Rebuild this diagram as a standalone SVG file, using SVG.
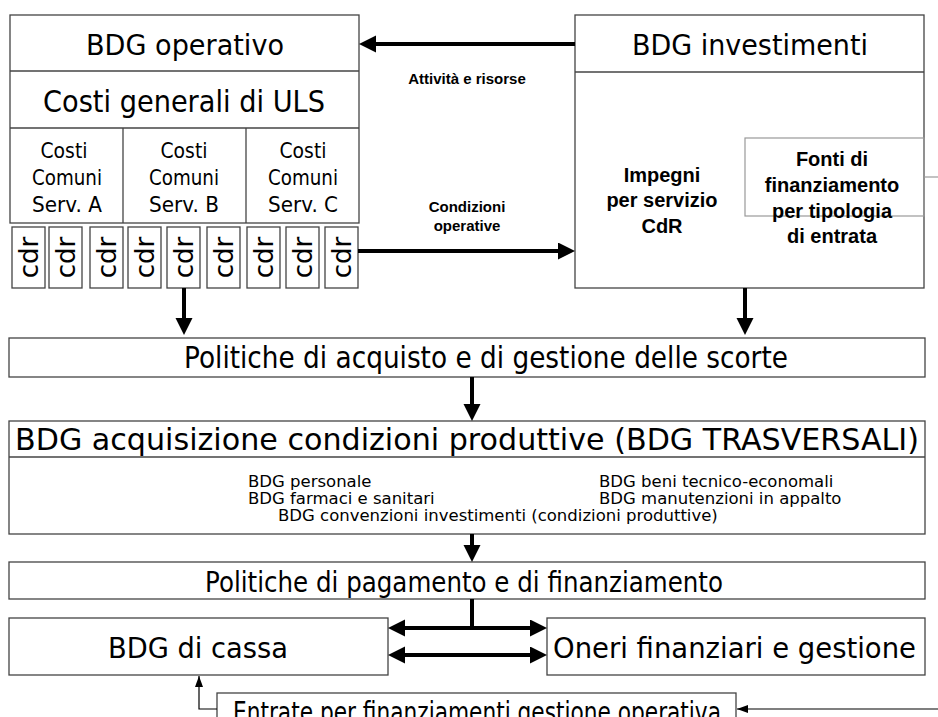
<svg xmlns="http://www.w3.org/2000/svg" width="938" height="717" viewBox="0 0 938 717">
<style>
.box{fill:#fff;stroke:#444;stroke-width:1.3}
.ln{fill:none;stroke:#444;stroke-width:1.3}
.t{font-family:"DejaVu Sans",Verdana,sans-serif;fill:#000}
.b{font-family:"Liberation Sans",Arial,sans-serif;font-weight:bold;fill:#000}
.m{text-anchor:middle}
.thick{fill:none;stroke:#000;stroke-width:4}
.thin{fill:none;stroke:#000;stroke-width:1.2}
</style>
<defs>
<marker id="big" markerUnits="userSpaceOnUse" markerWidth="18" markerHeight="18" refX="0" refY="8.5" orient="auto-start-reverse"><path d="M0,0 L17,8.5 L0,17 z" fill="#000"/></marker>
<marker id="small" markerUnits="userSpaceOnUse" markerWidth="12" markerHeight="9" refX="11" refY="4" orient="auto"><path d="M0,0 L11,4 L0,8 z" fill="#000"/></marker>
</defs>
<rect width="938" height="717" fill="#fff"/>

<g id="bdg-operativo">
<rect class="box" x="10" y="15" width="349" height="208"/>
<line class="ln" x1="10" y1="71" x2="359" y2="71"/>
<line class="ln" x1="10" y1="128" x2="359" y2="128"/>
<line class="ln" x1="123" y1="128" x2="123" y2="223"/>
<line class="ln" x1="246" y1="128" x2="246" y2="223"/>
<text class="t m" x="185" y="55" font-size="28.5" textLength="198" lengthAdjust="spacingAndGlyphs">BDG operativo</text>
<text class="t m" x="184" y="112" font-size="31" textLength="282" lengthAdjust="spacingAndGlyphs">Costi generali di ULS</text>
<g class="t m" font-size="20.5">
<text x="64" y="158" textLength="47" lengthAdjust="spacingAndGlyphs">Costi</text><text x="67" y="185" textLength="70" lengthAdjust="spacingAndGlyphs">Comuni</text><text x="67" y="212" textLength="70" lengthAdjust="spacingAndGlyphs">Serv. A</text>
<text x="184" y="158" textLength="47" lengthAdjust="spacingAndGlyphs">Costi</text><text x="184" y="185" textLength="70" lengthAdjust="spacingAndGlyphs">Comuni</text><text x="184" y="212" textLength="70" lengthAdjust="spacingAndGlyphs">Serv. B</text>
<text x="303" y="158" textLength="47" lengthAdjust="spacingAndGlyphs">Costi</text><text x="303" y="185" textLength="70" lengthAdjust="spacingAndGlyphs">Comuni</text><text x="303" y="212" textLength="70" lengthAdjust="spacingAndGlyphs">Serv. C</text>
</g>
</g>

<g id="cdr-units" class="t m" font-size="26">
<g id="cdr1"><rect class="box" x="12" y="227" width="33" height="61"/><text transform="translate(38,257.5) rotate(-90)">cdr</text></g>
<g id="cdr2"><rect class="box" x="49" y="227" width="33" height="61"/><text transform="translate(75,257.5) rotate(-90)">cdr</text></g>
<g id="cdr3"><rect class="box" x="90" y="227" width="33" height="61"/><text transform="translate(116,257.5) rotate(-90)">cdr</text></g>
<g id="cdr4"><rect class="box" x="128" y="227" width="33" height="61"/><text transform="translate(154,257.5) rotate(-90)">cdr</text></g>
<g id="cdr5"><rect class="box" x="167" y="227" width="33" height="61"/><text transform="translate(193,257.5) rotate(-90)">cdr</text></g>
<g id="cdr6"><rect class="box" x="207" y="227" width="33" height="61"/><text transform="translate(233,257.5) rotate(-90)">cdr</text></g>
<g id="cdr7"><rect class="box" x="247" y="227" width="33" height="61"/><text transform="translate(273,257.5) rotate(-90)">cdr</text></g>
<g id="cdr8"><rect class="box" x="286" y="227" width="33" height="61"/><text transform="translate(312,257.5) rotate(-90)">cdr</text></g>
<g id="cdr9"><rect class="box" x="325" y="227" width="33" height="61"/><text transform="translate(351,257.5) rotate(-90)">cdr</text></g>
</g>

<g id="bdg-investimenti">
<rect class="box" x="575" y="15" width="349" height="273"/>
<line class="ln" x1="575" y1="72" x2="924" y2="72"/>
<text class="t m" x="750" y="55" font-size="29" textLength="236" lengthAdjust="spacingAndGlyphs">BDG investimenti</text>
<g class="b m" font-size="20">
<text x="662" y="182">Impegni</text>
<text x="662" y="207">per servizio</text>
<text x="662" y="233">CdR</text>
</g>
</g>

<g id="fonti-finanziamento">
<rect x="745" y="138" width="179" height="78" fill="none" stroke="#999" stroke-width="1.2"/>
<g class="b m" font-size="20">
<text x="832" y="166">Fonti di</text>
<text x="832" y="192">finanziamento</text>
<text x="832" y="218">per tipologia</text>
<text x="832" y="243">di entrata</text>
</g>
</g>

<g id="politiche-acquisto">
<rect class="box" x="9" y="338" width="916" height="39"/>
<text class="t" x="184" y="368" font-size="30" textLength="604" lengthAdjust="spacingAndGlyphs">Politiche di acquisto e di gestione delle scorte</text>
</g>

<g id="bdg-acquisizione">
<rect class="box" x="9" y="421" width="916" height="113"/>
<line class="ln" x1="9" y1="457" x2="925" y2="457"/>
<text class="t m" x="467" y="450" font-size="30" textLength="904" lengthAdjust="spacingAndGlyphs">BDG acquisizione condizioni produttive (BDG TRASVERSALI)</text>
<g class="t" font-size="16.5" xml:space="preserve">
<text x="248" y="487">BDG personale</text>
<text x="599" y="487">BDG   beni tecnico-economali</text>
<text x="248" y="504">BDG farmaci e sanitari</text>
<text x="599" y="504">BDG manutenzioni in appalto</text>
<text x="278" y="521">BDG convenzioni investimenti (condizioni produttive)</text>
</g>
</g>

<g id="politiche-pagamento">
<rect class="box" x="9" y="562" width="916" height="37"/>
<text class="t" x="205" y="592" font-size="28" textLength="518" lengthAdjust="spacingAndGlyphs">Politiche di pagamento e di finanziamento</text>
</g>

<g id="bdg-cassa">
<rect class="box" x="9" y="618" width="379" height="57"/>
<text class="t m" x="198" y="658" font-size="29" textLength="180" lengthAdjust="spacingAndGlyphs">BDG di cassa</text>
</g>

<g id="oneri">
<rect class="box" x="547" y="618" width="378" height="57"/>
<text class="t" x="553" y="658" font-size="28.5" textLength="363" lengthAdjust="spacingAndGlyphs">Oneri finanziari e gestione</text>
</g>

<g id="entrate">
<rect class="box" x="217" y="693" width="519" height="40"/>
<text class="t" x="233" y="722" font-size="27.5" textLength="488" lengthAdjust="spacingAndGlyphs">Entrate per finanziamenti gestione operativa</text>
</g>

<g id="connectors">
<line class="thick" x1="575" y1="44" x2="376" y2="44" marker-end="url(#big)"/>
<text class="b m" x="467" y="84" font-size="15">Attività e risorse</text>
<line class="thick" x1="358" y1="251" x2="558" y2="251" marker-end="url(#big)"/>
<text class="b m" x="467" y="212" font-size="15">Condizioni</text>
<text class="b m" x="467" y="231" font-size="15">operative</text>
<line class="thick" x1="184" y1="288" x2="184" y2="318" marker-end="url(#big)"/>
<line class="thick" x1="745" y1="288" x2="745" y2="318" marker-end="url(#big)"/>
<line class="thick" x1="472" y1="377" x2="472" y2="404" marker-end="url(#big)"/>
<line class="thick" x1="472" y1="534" x2="472" y2="545" marker-end="url(#big)"/>
<line class="thick" x1="472" y1="599" x2="472" y2="628"/>
<line class="thick" x1="405" y1="628" x2="530" y2="628" marker-start="url(#big)" marker-end="url(#big)"/>
<line class="thick" x1="405" y1="655" x2="530" y2="655" marker-start="url(#big)" marker-end="url(#big)"/>
<polyline class="thin" points="217,709 199,709 199,676" marker-end="url(#small)"/>
<line class="thin" x1="938" y1="709" x2="737" y2="709" marker-end="url(#small)"/>
<line x1="924" y1="177" x2="938" y2="177" stroke="#999" stroke-width="1.2"/>
</g>
</svg>
